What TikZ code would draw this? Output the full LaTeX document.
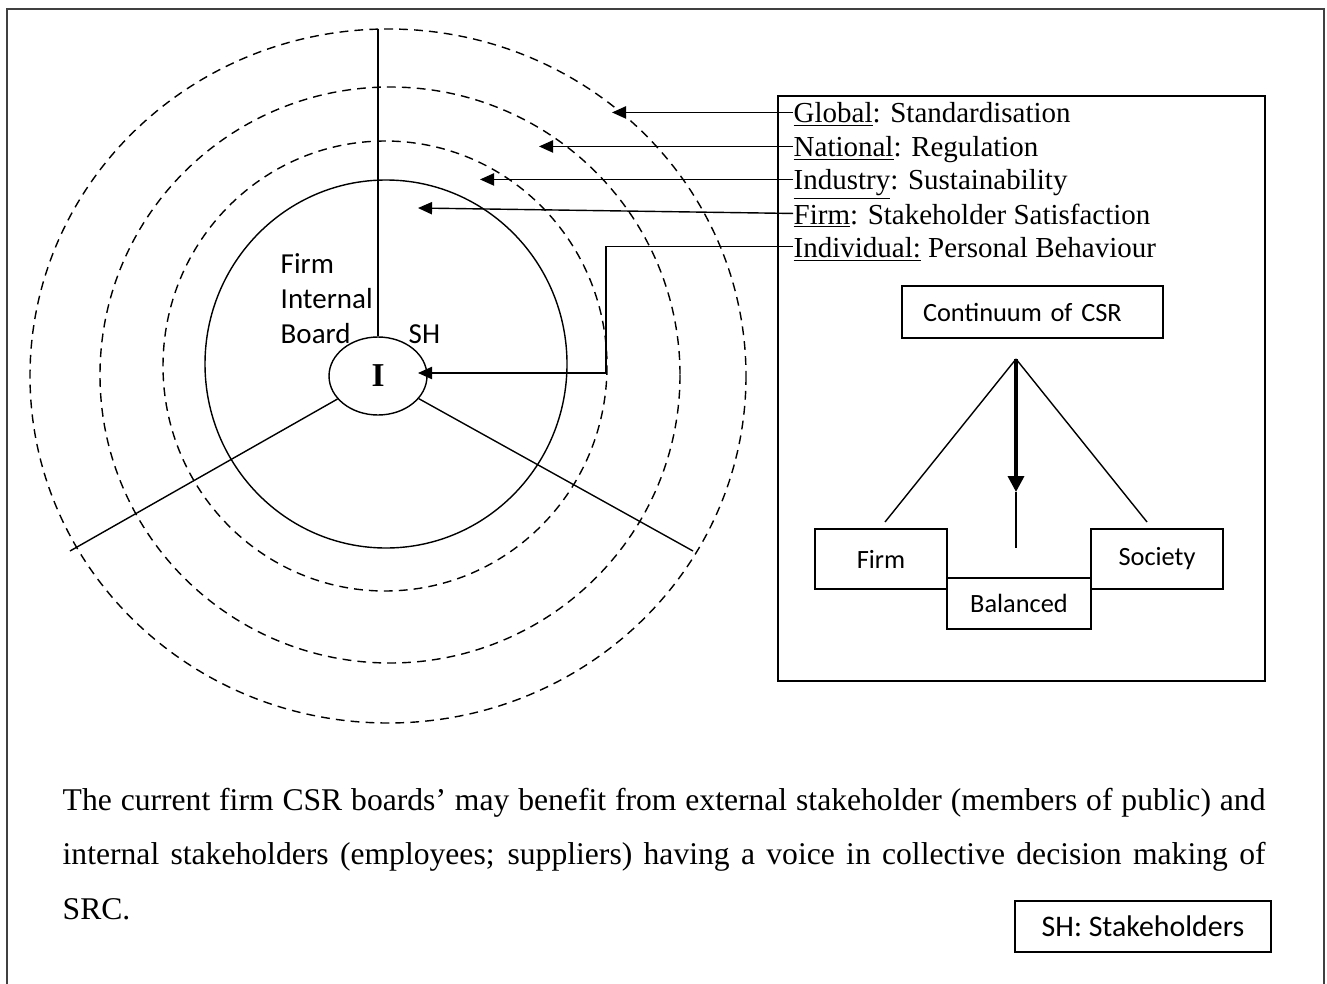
\documentclass[tikz,border=0pt]{standalone}
\usepackage{fontspec}
\setmainfont{Liberation Serif}
\newfontfamily\calibri{Carlito}
\usetikzlibrary{arrows.meta,shapes.geometric}

\begin{document}
\begin{tikzpicture}[x=0.02cm,y=-0.02cm,line width=0.8pt,
        ring/.style={dash pattern=on 5pt off 3.5pt},
        arr/.style={-{Triangle[length=8pt,width=7pt]}},
        lvl/.style={anchor=base west,inner sep=0pt,text height=15pt,text depth=3pt,font=\fontsize{16.5}{19}\selectfont},
        cal/.style={font=\calibri\fontsize{15}{19.8}\selectfont},
        box/.style={draw,cal,inner sep=0pt}] % CSR levels around the individual
        \useasboundingbox (0,0) rectangle (1327,983);
        \draw[black!75,line width=1.1pt](7,995)--(7,9)--(1324,9)--(1324,995);
        % rings
        \draw[ring](388,376) ellipse [x radius=358,y radius=347];
        \draw[ring](390,375) ellipse [x radius=290,y radius=288];
        \draw[ring](385,366) ellipse [x radius=222,y radius=225];
        \draw(386,364) ellipse [x radius=181,y radius=184];
        \node[draw,ellipse,minimum width=1.96cm,minimum height=1.56cm,inner sep=0pt,fill=white,
                font=\bfseries\fontsize{19}{22}\selectfont] (I) at (378,376) {I};
        \coordinate (top) at (378,29);
        \coordinate (sl) at (70,551);
        \coordinate (sr) at (693,551);
        \draw(top)--(I.north);
        \draw(I)--(sl);
        \draw(I)--(sr);
        \node[cal,font=\calibri\fontsize{16.5}{19.8}\selectfont,align=left,anchor=base west,inner sep=0pt] (board) at (280,343) {Firm\\Internal\\Board};
        \node[cal,font=\calibri\fontsize{16.5}{19.8}\selectfont,anchor=base west,inner sep=0pt] (sh) at (408,343) {SH};
        % levels
        \draw(778,96) rectangle (1265,681);
        \node[lvl] (glob) at (793,123) {\underline{Global}: Standardisation};
        \node[lvl] (natl) at (793,157) {\underline{National}: Regulation};
        \node[lvl] (indu) at (793,190) {\underline{Industry}: Sustainability};
        \node[lvl] (frm) at (793,224) {\underline{Firm}: Stakeholder Satisfaction};
        \node[lvl] (indi) at (793,257) {\underline{Individual:} Personal Behaviour};
        \coordinate (tglob) at (612,112);
        \coordinate (tnatl) at (539,141);
        \coordinate (tindu) at (480,181);
        \coordinate (tfrm) at (418,208);
        \coordinate (kink) at (606,373);
        \coordinate (tindi) at (418,373);
        \draw[arr](glob.west)--(glob.west-|tglob);
        \draw[arr](natl.west)--(natl.west-|tnatl);
        \draw[arr](indu.west)--(indu.west-|tindu);
        \draw[arr](frm.west)--(tfrm);
        \draw[arr](indi.west)-|(kink)--(tindi);
        % continuum
        \node[box,inner xsep=0.42cm,text width=4.38cm,align=left,minimum height=1.04cm] (cont) at (1032.5,312) {Continuum of CSR};
        \node[box,minimum width=2.64cm,minimum height=1.2cm] (firm) at (881,559) {Firm};
        \node[box,minimum width=2.64cm,minimum height=1.2cm] (soc) at (1157,559) {Society};
        \node[box,minimum width=2.88cm,minimum height=1.02cm] (bal) at (1019,603.5) {Balanced};
        \coordinate (apex) at (1016,359);
        \coordinate (fl) at (885,522);
        \coordinate (fr) at (1147,522);
        \coordinate (mid) at (1016,492);
        \coordinate (stem) at (1016,548);
        \draw(apex)--(fl);
        \draw(apex)--(fr);
        \draw[line width=2pt,-{Triangle[length=9pt,width=9pt]}](apex)--(mid);
        \draw(mid)--(stem);
        % note
        \node[anchor=base west,text width=24.06cm,align=justify,inner sep=0pt,
                font=\fontsize{18}{31.2}\selectfont] (note) at (62,810)
                {The current firm CSR boards’ may benefit from external stakeholder (members of public) and\linebreak
                internal stakeholders (employees; suppliers) having a voice in collective decision making of\linebreak
                SRC.};
        \node[box,font=\calibri\fontsize{17}{20}\selectfont,minimum width=5.12cm,minimum height=1.02cm] (key) at (1143,926.5) {SH: Stakeholders};
\end{tikzpicture}
\end{document}
